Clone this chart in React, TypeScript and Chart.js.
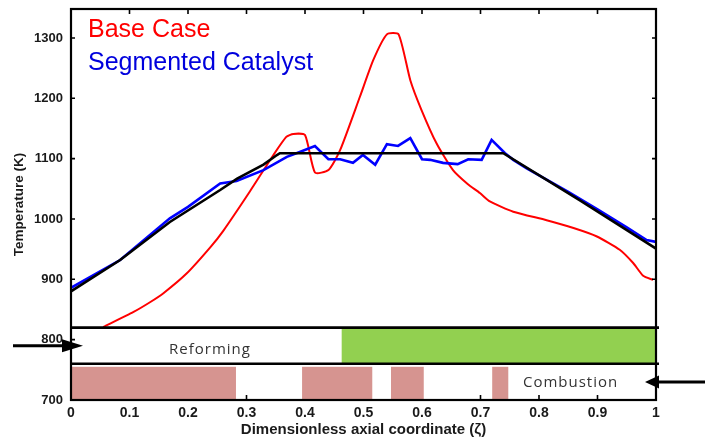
import React, { useEffect, useRef } from "react";
import { Chart, registerables } from "chart.js";

Chart.register(...registerables);

// ---- data ----
const idealX = [0, 0.084, 0.169, 0.255, 0.284, 0.329, 0.352, 0.357, 0.739, 0.87, 1.0];
const idealT = [880, 932, 995, 1048, 1067, 1090, 1106, 1109, 1109, 1031, 951];

const segX = [0, 0.084, 0.169, 0.2, 0.255, 0.283, 0.329, 0.369, 0.391, 0.417, 0.44, 0.46, 0.482, 0.499, 0.52, 0.54, 0.559, 0.58, 0.6, 0.614, 0.636, 0.661, 0.679, 0.702, 0.719, 0.742, 0.756, 0.779, 0.85, 0.9, 0.95, 0.984, 1.0];
const segT = [886, 932, 1001, 1020, 1059, 1063, 1081, 1103, 1111, 1121, 1099, 1099, 1093, 1106, 1090, 1124, 1121, 1134, 1099, 1098, 1093, 1091, 1099, 1098, 1131, 1109, 1098, 1084, 1045, 1016, 986, 965, 962];

const baseX = [0.055, 0.107, 0.135, 0.158, 0.198, 0.238, 0.26, 0.306, 0.346, 0.368, 0.38, 0.4, 0.417, 0.44, 0.46, 0.494, 0.517, 0.54, 0.56, 0.58, 0.599, 0.625, 0.653, 0.678, 0.699, 0.716, 0.756, 0.813, 0.859, 0.899, 0.938, 0.961, 0.978, 0.995];
const baseT = [821, 846, 862, 877, 910, 953, 980, 1046, 1106, 1136, 1141, 1139, 1077, 1081, 1114, 1203, 1264, 1306, 1306, 1230, 1181, 1125, 1081, 1058, 1043, 1029, 1012, 998, 985, 971, 949, 927, 906, 899];

const xTickValues = [0, 0.1, 0.2, 0.3, 0.4, 0.5, 0.6, 0.7, 0.8, 0.9, 1];
const xTickLabels = ["0", "0.1", "0.2", "0.3", "0.4", "0.5", "0.6", "0.7", "0.8", "0.9", "1"];
const yTickValues = [700, 800, 900, 1000, 1100, 1200, 1300];
const yTickLabels = ["700", "800", "900", "1000", "1100", "1200", "1300"];

// strips below the profile
const stripSeparators = [820, 760];
const reformingBandT = [760, 820];
const reformingCatalyst = [[0.4627, 1.0]];
const combustionBandT = [700, 755];
const combustionCatalyst = [[0, 0.282], [0.395, 0.515], [0.547, 0.603], [0.72, 0.7475]];

const legendNames = ["Base Case", "Segmented Catalyst"];
const stripNames = ["Reforming", "Combustion"];

const FONT = "'Liberation Sans', Arial, sans-serif";

const toPts = (xs: number[], ys: number[]) => xs.map((x, i) => ({ x, y: ys[i] }));

const decor = {
  id: "decor",
  afterDatasetsDraw(chart: any) {
    const { ctx, chartArea: a, scales } = chart;
    const xs = scales.x;
    const ys = scales.y;
    const W = chart.width;
    ctx.save();

    const ySepTop = ys.getPixelForValue(stripSeparators[0]);
    const ySepBot = ys.getPixelForValue(stripSeparators[1]);

    // white cover for the strip region
    ctx.fillStyle = "#ffffff";
    ctx.fillRect(a.left, ySepTop, a.right - a.left, a.bottom - ySepTop);

    // inner tick marks
    ctx.strokeStyle = "#000";
    ctx.lineWidth = 1.6;
    ctx.beginPath();
    xTickValues.forEach((v) => {
      if (v === 0 || v === 1) return;
      const px = xs.getPixelForValue(v);
      ctx.moveTo(px, a.top);
      ctx.lineTo(px, a.top + 5);
      ctx.moveTo(px, a.bottom);
      ctx.lineTo(px, a.bottom - 5);
    });
    yTickValues.forEach((v) => {
      const py = ys.getPixelForValue(v);
      ctx.moveTo(a.left, py);
      ctx.lineTo(a.left + 4, py);
      ctx.moveTo(a.right, py);
      ctx.lineTo(a.right - 4, py);
    });
    ctx.stroke();

    // reforming catalyst (green)
    ctx.fillStyle = "#92d050";
    const gTop = ys.getPixelForValue(reformingBandT[1]);
    const gBot = ys.getPixelForValue(reformingBandT[0]);
    reformingCatalyst.forEach(([s, e]) => {
      const x0 = xs.getPixelForValue(s);
      const x1 = xs.getPixelForValue(e);
      ctx.fillRect(x0, gTop, x1 - x0, gBot - gTop);
    });

    // combustion catalyst (pink)
    ctx.fillStyle = "#d69490";
    const pTop = ys.getPixelForValue(combustionBandT[1]);
    const pBot = ys.getPixelForValue(combustionBandT[0]);
    combustionCatalyst.forEach(([s, e]) => {
      const x0 = xs.getPixelForValue(s);
      const x1 = xs.getPixelForValue(e);
      ctx.fillRect(x0, pTop, x1 - x0, pBot - pTop);
    });

    // separators
    ctx.strokeStyle = "#000";
    ctx.lineWidth = 2.6;
    ctx.beginPath();
    [ySepTop, ySepBot].forEach((py) => {
      ctx.moveTo(a.left, py);
      ctx.lineTo(a.right + 3, py);
    });
    ctx.stroke();

    // frame
    ctx.lineWidth = 2.2;
    ctx.strokeRect(a.left, a.top, a.right - a.left, a.bottom - a.top);

    // legend text
    ctx.font = `25px ${FONT}`;
    ctx.textAlign = "left";
    ctx.textBaseline = "alphabetic";
    ctx.fillStyle = "#ff0000";
    ctx.fillText(legendNames[0], a.left + 17, a.top + 28);
    ctx.fillStyle = "#0000dd";
    ctx.fillText(legendNames[1], a.left + 17, a.top + 60.5);

    // strip names
    const refMid = (ySepTop + ySepBot) / 2;
    const combMid = (ySepBot + a.bottom) / 2;
    ctx.fillStyle = "#333333";
    ctx.font = `15px 'Open Sans', sans-serif`;
    (ctx as any).letterSpacing = "1px";
    ctx.textAlign = "center";
    ctx.fillText(stripNames[0], xs.getPixelForValue(0.2376), refMid + 8.5);
    ctx.fillText(stripNames[1], xs.getPixelForValue(0.854), combMid + 5);
    (ctx as any).letterSpacing = "0px";

    // arrows (feed inlets)
    ctx.strokeStyle = "#000";
    ctx.fillStyle = "#000";
    ctx.lineWidth = 3;
    ctx.beginPath();
    ctx.moveTo(a.left - 58, refMid);
    ctx.lineTo(a.left - 6, refMid);
    ctx.stroke();
    ctx.beginPath();
    ctx.moveTo(a.left + 12, refMid);
    ctx.lineTo(a.left - 9, refMid - 6.5);
    ctx.lineTo(a.left - 9, refMid + 6.5);
    ctx.closePath();
    ctx.fill();

    ctx.beginPath();
    ctx.moveTo(W, combMid);
    ctx.lineTo(a.right + 0, combMid);
    ctx.stroke();
    ctx.beginPath();
    ctx.moveTo(a.right - 11, combMid);
    ctx.lineTo(a.right + 3, combMid - 6.5);
    ctx.lineTo(a.right + 3, combMid + 6.5);
    ctx.closePath();
    ctx.fill();

    ctx.restore();
  },
};

export default function App() {
  const ref = useRef<HTMLCanvasElement | null>(null);

  useEffect(() => {
    document.body.style.margin = "0";
    const canvas = ref.current;
    if (!canvas) return;
    const chart = new Chart(canvas, {
      type: "scatter",
      data: {
        datasets: [
          {
            label: "Ideal",
            data: toPts(idealX, idealT),
            showLine: true,
            borderColor: "#000000",
            borderWidth: 2.6,
            pointRadius: 0,
            tension: 0,
          },
          {
            label: "Segmented Catalyst",
            data: toPts(segX, segT),
            showLine: true,
            borderColor: "#0000ff",
            borderWidth: 2.6,
            pointRadius: 0,
            tension: 0,
          },
          {
            label: "Base Case",
            data: toPts(baseX, baseT),
            showLine: true,
            borderColor: "#ff0000",
            borderWidth: 2,
            pointRadius: 0,
            tension: 0.2,
          },
        ],
      },
      options: {
        responsive: false,
        animation: false,
        events: [],
        layout: { padding: { top: 9, right: 49, left: 0, bottom: 0 } },
        plugins: { legend: { display: false }, tooltip: { enabled: false } },
        scales: {
          x: {
            type: "linear",
            min: 0,
            max: 1,
            grid: { display: false, drawTicks: false },
            border: { display: false },
            afterBuildTicks: (s: any) => {
              s.ticks = xTickValues.map((v) => ({ value: v }));
            },
            afterFit: (s: any) => {
              s.height = 39;
              s.paddingLeft = 0;
              s.paddingRight = 0;
            },
            ticks: {
              autoSkip: false,
              maxRotation: 0,
              padding: 5,
              color: "#1a1a1a",
              font: { family: FONT, size: 14, weight: "bold" },
              callback: (_v: any, i: number) => xTickLabels[i],
            },
            title: {
              display: true,
              text: "Dimensionless axial coordinate (ζ)",
              color: "#1a1a1a",
              font: { family: FONT, size: 15, weight: "bold" },
              padding: { top: 0, bottom: 0 },
            },
          },
          y: {
            type: "linear",
            min: 700,
            max: 1348,
            grid: { display: false, drawTicks: false },
            border: { display: false },
            afterBuildTicks: (s: any) => {
              s.ticks = yTickValues.map((v) => ({ value: v }));
            },
            afterFit: (s: any) => {
              s.width = 71;
              s.paddingTop = 0;
              s.paddingBottom = 0;
            },
            ticks: {
              autoSkip: false,
              padding: 8,
              color: "#1a1a1a",
              font: { family: FONT, size: 13, weight: "bold" },
              callback: (_v: any, i: number) => yTickLabels[i],
            },
            title: {
              display: true,
              text: "Temperature (K)",
              color: "#1a1a1a",
              font: { family: FONT, size: 13.5, weight: "bold" },
              padding: { top: 11, bottom: 0 },
            },
          },
        },
      },
      plugins: [decor],
    });
    return () => chart.destroy();
  }, []);

  return (
    <div style={{ position: "absolute", left: 0, top: 0, width: 705, height: 439, background: "#fff" }}>
      <canvas ref={ref} width={705} height={439} />
    </div>
  );
}
